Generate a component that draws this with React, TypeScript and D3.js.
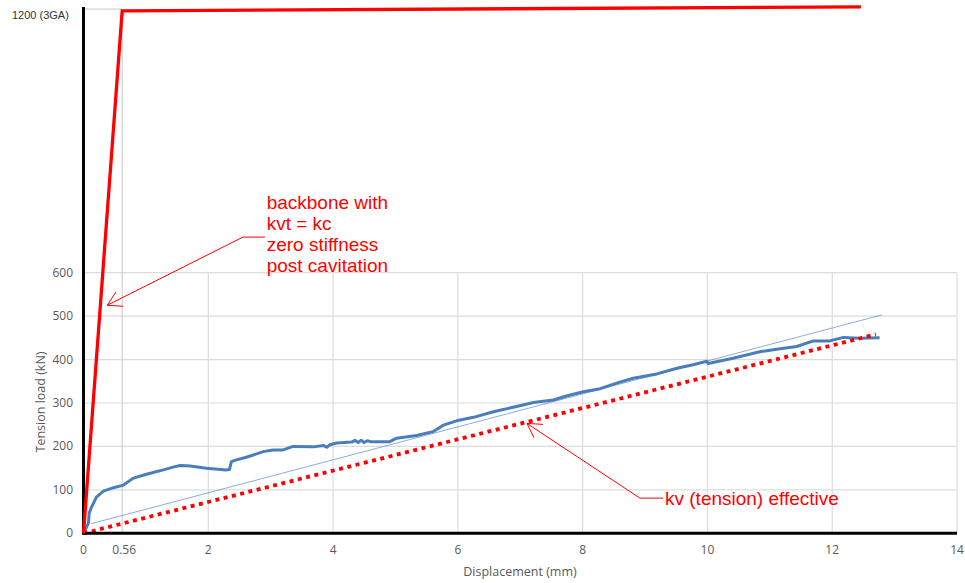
import React, { useEffect, useRef } from "react";
import * as d3 from "d3";

// measured test curve (displacement mm, tension kN)
const testDisp = [0, 0.03, 0.05, 0.08, 0.09, 0.13, 0.21, 0.32, 0.48, 0.64, 0.8, 1.01, 1.28, 1.45, 1.55, 1.71, 1.97, 2.29, 2.34, 2.37, 2.45, 2.61, 2.88, 3.04, 3.2, 3.36, 3.68, 3.85, 3.9, 3.95, 4.06, 4.3, 4.35, 4.4, 4.45, 4.5, 4.55, 4.6, 4.91, 5.02, 5.34, 5.6, 5.77, 5.98, 6.25, 6.57, 6.94, 7.21, 7.53, 7.74, 8.01, 8.28, 8.57, 8.81, 9.19, 9.51, 9.77, 9.99, 10.01, 10.41, 10.84, 11.11, 11.43, 11.7, 11.96, 12.18, 12.44, 12.76];
const testLoad = [0, 8, 15, 24, 46, 61, 84, 97, 105, 111, 127, 136, 146, 153, 156, 155, 150, 146, 147, 165, 169, 175, 188, 192, 192, 200, 199, 202, 198, 204, 208, 210, 214, 209, 214, 209, 213, 211, 211, 219, 225, 234, 249, 259, 267, 280, 292, 301, 307, 316, 326, 333, 347, 357, 367, 380, 388, 396, 391, 403, 418, 424, 430, 443, 443, 451, 449, 450];

// backbone (kvt = kc, zero stiffness after cavitation)
const backboneDisp = [0, 0.62, 12.46];
const backboneLoad = [0, 1203, 1212];

// kv (tension) effective
const kvDisp = [0, 12.7];
const kvLoad = [0, 458];

// thin trend line
const trendDisp = [0.12, 12.8];
const trendLoad = [22, 503];

const xTicks = [0, 2, 4, 6, 8, 10, 12, 14];
const yTicks = [0, 100, 200, 300, 400, 500, 600];
const cavDisp = 0.62;
const cavLabel = "0.56";
const topLoad = 1207;
const topLabel = "1200 (3GA)";

const note1 = ["backbone with", "kvt = kc", "zero stiffness", "post cavitation"];
const note2 = "kv (tension) effective";

export default function App() {
  const ref = useRef<SVGSVGElement>(null);

  useEffect(() => {
    document.body.style.margin = "0";
    const svg = d3.select(ref.current);
    svg.selectAll("*").remove();

    const x = d3.scaleLinear().domain([0, 14]).range([83.5, 957]);
    const y = d3.scaleLinear().domain([0, 1200]).range([533.3, 12.1]);
    const red = "#ff0000";
    const tickFont = "'Open Sans', sans-serif";

    // gridlines
    svg.append("g")
      .selectAll("line")
      .data(yTicks.slice(1))
      .enter()
      .append("line")
      .attr("x1", x(0)).attr("x2", x(14))
      .attr("y1", d => y(d)).attr("y2", d => y(d))
      .attr("stroke", "#dcdcdc").attr("stroke-width", 1.2);
    svg.append("g")
      .selectAll("line")
      .data(xTicks.slice(1))
      .enter()
      .append("line")
      .attr("x1", d => x(d)).attr("x2", d => x(d))
      .attr("y1", y(0)).attr("y2", y(600))
      .attr("stroke", "#dcdcdc").attr("stroke-width", 1.2);

    // cavitation marker lines
    svg.append("line")
      .attr("x1", x(cavDisp)).attr("x2", x(cavDisp))
      .attr("y1", y(0)).attr("y2", y(topLoad))
      .attr("stroke", "#c8c8c8").attr("stroke-width", 1);
    svg.append("line")
      .attr("x1", x(0)).attr("x2", x(cavDisp))
      .attr("y1", y(topLoad)).attr("y2", y(topLoad))
      .attr("stroke", "#c8c8c8").attr("stroke-width", 1);

    // tick labels
    svg.append("g")
      .selectAll("text")
      .data(yTicks)
      .enter()
      .append("text")
      .attr("x", 73).attr("y", d => y(d) + 4)
      .attr("text-anchor", "end")
      .style("font-family", tickFont).style("font-size", "12px")
      .attr("fill", "#595959")
      .text(d => d);
    svg.append("g")
      .selectAll("text")
      .data(xTicks)
      .enter()
      .append("text")
      .attr("x", d => x(d)).attr("y", 554)
      .attr("text-anchor", "middle")
      .style("font-family", tickFont).style("font-size", "12px")
      .attr("fill", "#595959")
      .text(d => d);
    svg.append("text")
      .attr("x", x(cavDisp) + 2).attr("y", 554)
      .attr("text-anchor", "middle")
      .style("font-family", tickFont).style("font-size", "12px")
      .attr("fill", "#595959")
      .text(cavLabel);
    svg.append("text")
      .attr("x", 12).attr("y", y(topLoad) + 10)
      .style("font-family", "'Liberation Sans', Arial, sans-serif").style("font-size", "11px")
      .attr("fill", "#333")
      .text(topLabel);

    // axis titles
    svg.append("text")
      .attr("x", 520).attr("y", 576)
      .attr("text-anchor", "middle")
      .style("font-family", tickFont).style("font-size", "12.5px")
      .attr("fill", "#595959")
      .text("Displacement (mm)");
    svg.append("text")
      .attr("transform", "translate(45,402) rotate(-90)")
      .attr("text-anchor", "middle")
      .style("font-family", tickFont).style("font-size", "12.5px")
      .attr("fill", "#595959")
      .text("Tension load (kN)");

    const line = d3.line<[number, number]>().x(d => x(d[0])).y(d => y(d[1]));

    // trend line
    svg.append("path")
      .attr("d", line(d3.zip(trendDisp, trendLoad) as [number, number][]))
      .attr("fill", "none").attr("stroke", "#6f98cf").attr("stroke-width", 0.8);

    // test curve
    svg.append("path")
      .attr("d", line(d3.zip(testDisp, testLoad) as [number, number][]))
      .attr("fill", "none").attr("stroke", "#4a7ebb").attr("stroke-width", 3)
      .attr("stroke-linejoin", "round");

    // kv effective dotted
    svg.append("path")
      .attr("d", line(d3.zip(kvDisp, kvLoad) as [number, number][]))
      .attr("fill", "none").attr("stroke", red).attr("stroke-width", 3.8)
      .attr("stroke-dasharray", "4 4.5");

    // axes
    svg.append("line")
      .attr("x1", x(0)).attr("x2", x(0))
      .attr("y1", 7).attr("y2", y(0) + 1.5)
      .attr("stroke", "#000").attr("stroke-width", 3);
    svg.append("line")
      .attr("x1", x(0)).attr("x2", x(14))
      .attr("y1", y(0)).attr("y2", y(0))
      .attr("stroke", "#000").attr("stroke-width", 3);

    // backbone
    svg.append("path")
      .attr("d", line(d3.zip(backboneDisp, backboneLoad) as [number, number][]))
      .attr("fill", "none").attr("stroke", red).attr("stroke-width", 3.3)
      .attr("stroke-linejoin", "miter");

    // annotations with open arrowheads
    const arrow = (pts: [number, number][]) => {
      const p = pts.map(d => [x(d[0]), y(d[1])]);
      svg.append("path")
        .attr("d", d3.line()(p as [number, number][]))
        .attr("fill", "none").attr("stroke", red).attr("stroke-width", 1);
      const [tx, ty] = p[0];
      const ang = Math.atan2(p[1][1] - ty, p[1][0] - tx);
      const len = 16, spread = Math.PI / 6;
      const a1 = [tx + len * Math.cos(ang - spread), ty + len * Math.sin(ang - spread)];
      const a2 = [tx + len * Math.cos(ang + spread), ty + len * Math.sin(ang + spread)];
      svg.append("path")
        .attr("d", `M${a1[0]},${a1[1]}L${tx},${ty}L${a2[0]},${a2[1]}`)
        .attr("fill", "none").attr("stroke", red).attr("stroke-width", 1);
    };
    arrow([[0.38, 525], [2.556, 682], [2.91, 682]]);
    arrow([[7.107, 253], [8.918, 81], [9.29, 81]]);

    const noteFont = "'Liberation Sans', Arial, sans-serif";
    svg.append("g")
      .selectAll("text")
      .data(note1)
      .enter()
      .append("text")
      .attr("x", x(2.936)).attr("y", (d, i) => 208.5 + i * 21)
      .style("font-family", noteFont).style("font-size", "19px")
      .attr("fill", red)
      .text(d => d);
    svg.append("text")
      .attr("x", x(9.32)).attr("y", 504.5)
      .style("font-family", noteFont).style("font-size", "19px")
      .attr("fill", red)
      .text(note2);
  }, []);

  return <svg ref={ref} width={965} height={583} style={{ display: "block", background: "#fff" }} />;
}
